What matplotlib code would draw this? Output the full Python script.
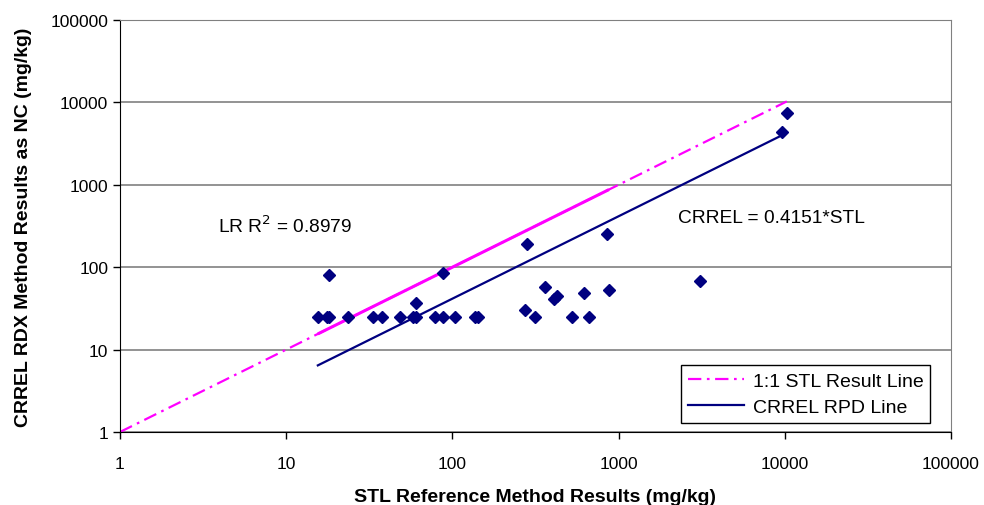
import numpy as np
import matplotlib
matplotlib.use('Agg')
from matplotlib import pyplot as plt

# STL reference results vs CRREL results (mg/kg)
stl = [15.5, 17.5, 18.2, 18.2, 23.4, 33.3, 37.7, 48.6, 58, 60.7, 60.7, 79, 88, 87.9,
       104, 137.6, 142, 273, 283, 313, 363, 411, 427, 526, 618, 663, 847, 875,
       3090, 9680, 10280]
crrel = [25, 25, 25, 80, 25, 25, 25, 25, 25, 25, 36.5, 25, 25, 85,
         25, 25, 25, 30.5, 191, 25, 58, 41, 45, 25, 48.6, 25, 253, 53,
         68, 4340, 7430]

slope = 0.4151
r2 = 0.8979
ticks = [1, 10, 100, 1000, 10000, 100000]
tick_labels = ['1', '10', '100', '1000', '10000', '100000']

plt.rcParams['font.family'] = ['Liberation Sans', 'DejaVu Sans']

fig = plt.figure(figsize=(9.84, 5.06), dpi=100)
ax = fig.add_axes([120 / 984, 73 / 506, 831 / 984, 412 / 506])

# 1:1 line from 1 up to the largest STL value
one_x = np.array([1, max(stl)])
ax.plot(one_x, one_x, color='#FF00FF', lw=1.6, dashes=(6, 2.5, 1.2, 2.5),
        label='1:1 STL Result Line', zorder=2)
# in the original the line is traced back and forth through the clustered
# points, so the dashes pile up and look solid over that stretch
dense = [v for v in stl if v < 1000]
ax.plot([min(dense), max(dense)], [min(dense), max(dense)], color='#FF00FF',
        lw=2.2, solid_capstyle='butt', zorder=2)

# regression line through the origin
rpd_x = np.array([min(stl), 9680])
ax.plot(rpd_x, slope * rpd_x, color='#000080', lw=1.6, label='CRREL RPD Line', zorder=3)

ax.plot(stl, crrel, linestyle='none', marker='D', markersize=6.5, color='#000080',
        markeredgecolor='#000080', zorder=4)

ax.set_xscale('log')
ax.set_yscale('log')
ax.set_xlim(1, 100000)
ax.set_ylim(1, 100000)
ax.set_xticks(ticks)
ax.set_xticklabels(tick_labels)
ax.set_yticks(ticks)
ax.set_yticklabels(tick_labels)
ax.minorticks_off()
ax.tick_params(labelsize=12.5, direction='out', length=5, width=1, color='black')
ax.tick_params(axis='x', pad=12)

ax.yaxis.grid(True, color='#808080', lw=1.2)
ax.set_axisbelow(True)
for s in ['top', 'right']:
    ax.spines[s].set_color('#808080')
for s in ['left', 'bottom']:
    ax.spines[s].set_color('black')

ax.set_xlabel('STL Reference Method Results (mg/kg)', fontsize=14, fontweight='bold', labelpad=12.5)
ax.set_ylabel('CRREL RDX Method Results as NC (mg/kg)', fontsize=14, fontweight='bold', labelpad=13)

ax.text(3.9, 320, 'LR R$^2$ = %.4f' % r2, fontsize=13.8, va='center', ha='left')
ax.text(2270, 400, 'CRREL = %.4f*STL' % slope, fontsize=13.8, va='center', ha='left')

leg = ax.legend(loc='lower right', bbox_to_anchor=(0.975, 0.022), fontsize=14,
                fancybox=False, framealpha=1, edgecolor='black', borderaxespad=0,
                handlelength=2.9, handletextpad=0.45, labelspacing=0.45, borderpad=0.35)
leg.get_frame().set_linewidth(1.0)

fig.savefig('out.png', dpi=100)
